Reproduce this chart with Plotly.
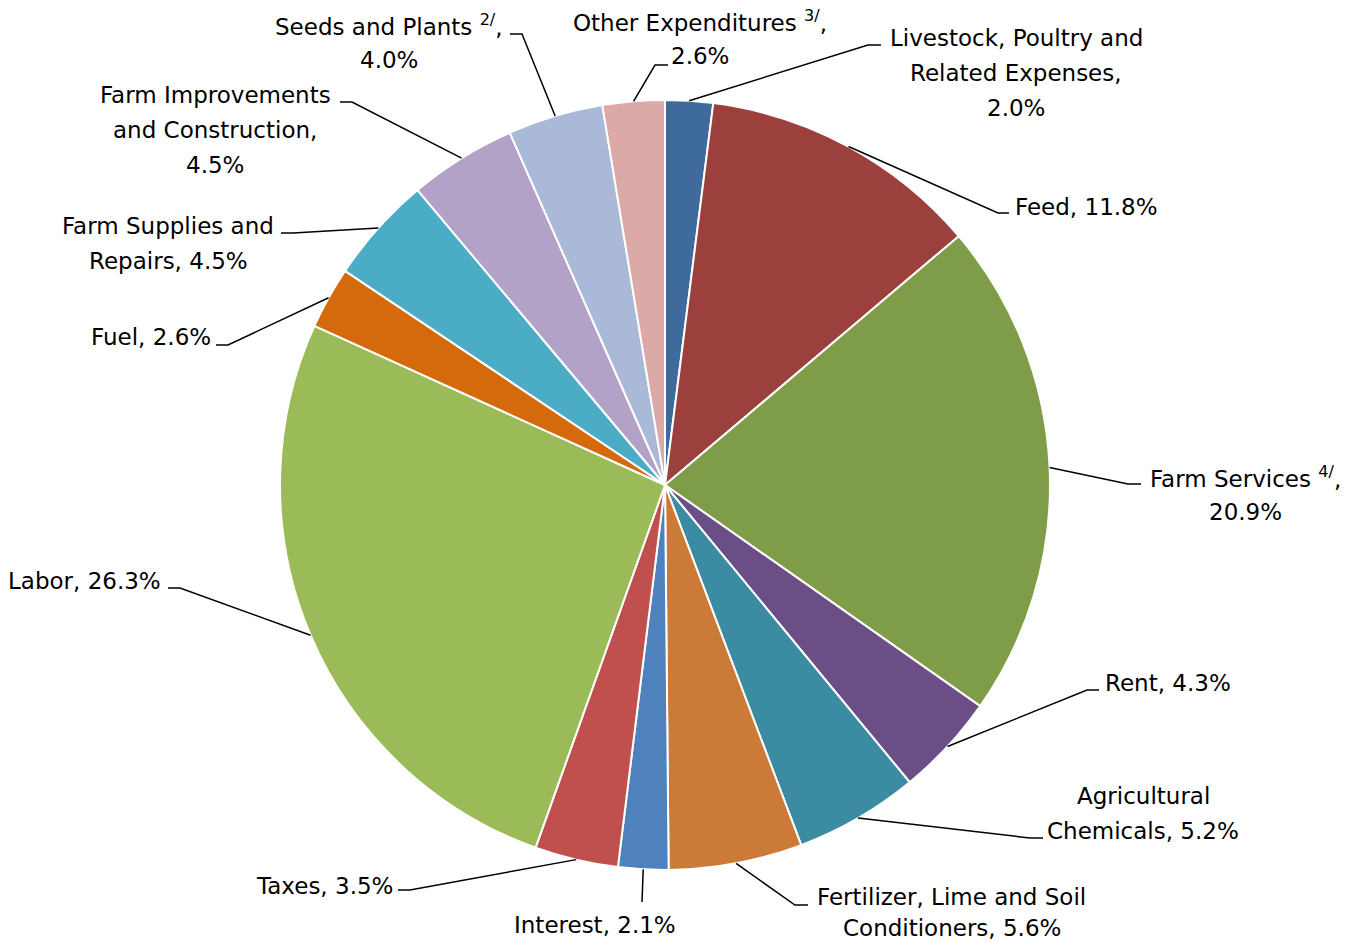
import math
import plotly.graph_objects as go

# ---------------- data ----------------
categories = [
    "Livestock, Poultry and Related Expenses", "Feed", "Farm Services", "Rent",
    "Agricultural Chemicals", "Fertilizer, Lime and Soil Conditioners", "Interest",
    "Taxes", "Labor", "Fuel", "Farm Supplies and Repairs",
    "Farm Improvements and Construction", "Seeds and Plants", "Other Expenditures",
]
shares = [2.0, 11.8, 20.9, 4.3, 5.2, 5.6, 2.1, 3.5, 26.3, 2.6, 4.5, 4.5, 4.0, 2.6]
colors = [
    "#3E6A9C", "#9C403E", "#7F9C48", "#6A4E85", "#3B8CA2", "#CC7A38", "#4F81BD",
    "#C0504D", "#9BBB59", "#D46A0C", "#4BACC6", "#B3A2C7", "#AAB9D7", "#DAA9A8",
]
label_lines = [
    ["Livestock, Poultry and", "Related Expenses,", "2.0%"],
    ["Feed, 11.8%"],
    ["Farm Services <sup>4/</sup>,", "20.9%"],
    ["Rent, 4.3%"],
    ["Agricultural", "Chemicals, 5.2%"],
    ["Fertilizer, Lime and Soil", "Conditioners, 5.6%"],
    ["Interest, 2.1%"],
    ["Taxes, 3.5%"],
    ["Labor, 26.3%"],
    ["Fuel, 2.6%"],
    ["Farm Supplies and", "Repairs, 4.5%"],
    ["Farm Improvements", "and Construction,", "4.5%"],
    ["Seeds and Plants <sup>2/</sup>,", "4.0%"],
    ["Other Expenditures <sup>3/</sup>,", "2.6%"],
]

# ---------------- layout (pixels) ----------------
W, H = 1358, 943
CX, CY, R = 665, 485, 385
FONT = dict(family="DejaVu Sans", size=23, color="#000000")
LINE_GAP = 35

# label placement: (anchor x, first-line y, xanchor, line gap)
label_pos = [
    (1016, 38, "center", 35), (1013, 207, "left", 35), (1245, 477, "center", 35),
    (1103, 683, "left", 35), (1143, 796, "center", 35), (952, 897, "center", 31),
    (595, 925, "center", 35), (395, 886, "right", 35), (163, 581, "right", 35),
    (213, 337, "right", 35), (168, 226, "center", 35), (215, 95, "center", 35),
    (389, 25, "center", 35), (700, 21, "center", 35),
]
# leader line: elbow point and end point near the label
leader_pts = [
    ((868, 45), (881, 45)), ((998, 213), (1009, 213)), ((1128, 484), (1141, 484)),
    ((1087, 690), (1099, 690)), ((1030, 838), (1043, 838)), ((795, 905), (808, 905)),
    ((642, 902), (642, 902)), ((410, 890), (398, 890)), ((180, 588), (168, 588)),
    ((228, 345), (216, 345)), ((293, 233), (281, 233)), ((352, 102), (340, 102)),
    ((522, 34), (510, 34)), ((655, 65), (668, 65)),
]


def px(x):
    return x / W


def py(y):
    return 1 - y / H


fig = go.Figure(go.Pie(
    labels=categories, values=shares, sort=False, direction="clockwise",
    rotation=0, textinfo="none", hoverinfo="label+percent",
    marker=dict(colors=colors, line=dict(color="#FFFFFF", width=2)),
    domain=dict(x=[px(CX - R), px(CX + R)], y=[py(CY + R), py(CY - R)]),
    showlegend=False,
))

total = sum(shares)
cum = 0.0
shapes = []
annotations = []
for i, v in enumerate(shares):
    mid = (cum + v / 2) / total * 2 * math.pi
    cum += v
    sx = CX + R * math.sin(mid)
    sy = CY - R * math.cos(mid)
    (ex, ey), (tx, ty) = leader_pts[i]
    path = f"M {px(sx)},{py(sy)} L {px(ex)},{py(ey)} L {px(tx)},{py(ty)}"
    shapes.append(dict(type="path", xref="paper", yref="paper", path=path,
                       line=dict(color="#000000", width=1.5)))
    lx, ly, anchor, gap = label_pos[i]
    for k, txt in enumerate(label_lines[i]):
        annotations.append(dict(
            text=txt, x=px(lx), y=py(ly + k * gap), xref="paper", yref="paper",
            xanchor=anchor, yanchor="middle", showarrow=False, font=FONT,
        ))

fig.update_layout(
    width=W, height=H, margin=dict(l=0, r=0, t=0, b=0),
    paper_bgcolor="#FFFFFF", plot_bgcolor="#FFFFFF",
    shapes=shapes, annotations=annotations,
)

fig.write_html(
    "out.html",
    config={"displayModeBar": False},
    post_script="document.body.style.margin='0';document.body.style.overflow='hidden';",
)
